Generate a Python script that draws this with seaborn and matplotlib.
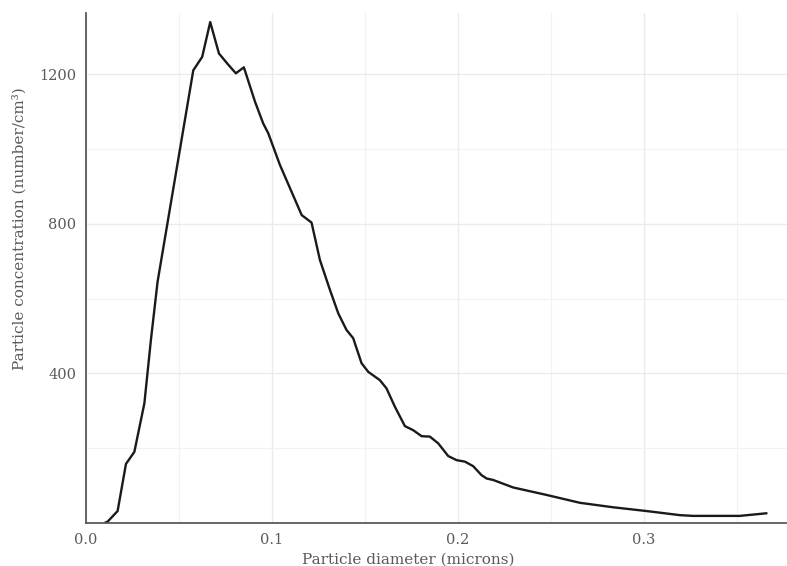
import matplotlib
matplotlib.use("Agg")
import matplotlib.pyplot as plt
import seaborn as sns
import pandas as pd
from matplotlib.ticker import FixedLocator

diameter = [0.010, 0.0117, 0.017, 0.0215, 0.026, 0.0314, 0.0349, 0.0385, 0.0577,
            0.0625, 0.0668, 0.0715, 0.076, 0.0806, 0.0849, 0.0909, 0.0953, 0.098,
            0.1043, 0.116, 0.1213, 0.1258, 0.1312, 0.1357, 0.1401, 0.1437, 0.1482,
            0.1518, 0.158, 0.1616, 0.1661, 0.1715, 0.176, 0.1805, 0.1849, 0.1894,
            0.1948, 0.1993, 0.2038, 0.2082, 0.2127, 0.2154, 0.219, 0.2297, 0.2477,
            0.2656, 0.2835, 0.3014, 0.3194, 0.3265, 0.3516, 0.366]
concentration = [0, 4, 32, 158, 190, 320, 489, 645, 1210,
                 1246, 1339, 1255, 1228, 1202, 1218, 1126, 1068, 1042,
                 957, 823, 803, 703, 623, 560, 516, 494, 427,
                 404, 382, 360, 311, 259, 248, 232, 231, 213,
                 179, 168, 164, 152, 128, 119, 115, 95, 75,
                 54, 42, 32, 21, 19, 19, 26]
x_ticks = [0.0, 0.1, 0.2, 0.3]
y_ticks = [400, 800, 1200]
x_label = "Particle diameter (microns)"
y_label = "Particle concentration (number/cm³)"

df = pd.DataFrame({"d": diameter, "c": concentration})

sns.set_theme(style="white")
plt.rcParams["font.family"] = ["DejaVu Serif", "DejaVu Sans"]

fig = plt.figure(figsize=(7.87, 5.66), dpi=100)
ax = fig.add_axes([86/787, 1 - 523/566, 1 - 86/787, (523 - 12.7)/566])

sns.lineplot(data=df, x="d", y="c", ax=ax, color="#1a1a1a", linewidth=1.7)

ax.set_xlim(0, 0.377)
ax.set_ylim(0, 1364)
ax.xaxis.set_major_locator(FixedLocator(x_ticks))
ax.xaxis.set_minor_locator(FixedLocator([0.05, 0.15, 0.25, 0.35]))
ax.yaxis.set_major_locator(FixedLocator(y_ticks))
ax.yaxis.set_minor_locator(FixedLocator([200, 600, 1000]))
ax.set_xticklabels(["0.0", "0.1", "0.2", "0.3"])
ax.set_yticklabels([str(v) for v in y_ticks])

ax.grid(True, which="major", color="#ebebeb", linewidth=1.0)
ax.grid(True, which="minor", color="#f2f2f2", linewidth=0.9)
ax.set_axisbelow(True)

for s in ["top", "right"]:
    ax.spines[s].set_visible(False)
for s in ["left", "bottom"]:
    ax.spines[s].set_color("#5a5a5a")
    ax.spines[s].set_linewidth(1.3)

ax.tick_params(axis="both", which="major", length=4, width=1.2, color="#5a5a5a",
               labelcolor="#5a5a5a", labelsize=10.5, pad=3)
ax.tick_params(axis="both", which="minor", length=0)

ax.set_xlabel(x_label, fontsize=11, color="#5a5a5a")
ax.set_ylabel(y_label, fontsize=11, color="#5a5a5a")
ax.xaxis.set_label_coords(0.459, -0.058)
ax.yaxis.set_label_coords(-0.084, 0.576)

fig.savefig("out.png", dpi=100, facecolor="white")
